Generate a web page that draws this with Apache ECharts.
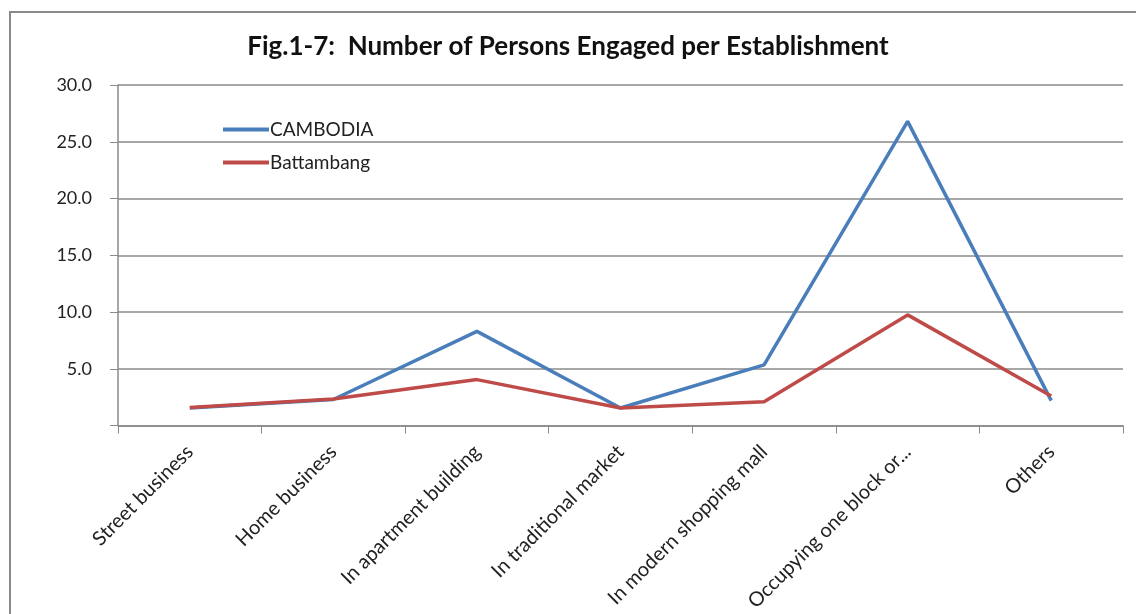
<!DOCTYPE html>
<html><head><meta charset="utf-8">
<script src="https://cdn.jsdelivr.net/npm/echarts@6/dist/echarts.min.js"></script>
<style>html,body{margin:0;padding:0;background:#fff}#c{width:1136px;height:614px}</style>
</head><body><div id="c"></div>
<script>
const title = 'Fig.1-7:  Number of Persons Engaged per Establishment';
const categories = ['Street business','Home business','In apartment building','In traditional market','In modern shopping mall','Occupying one block or...','Others'];
const cambodia = [1.55, 2.3, 8.3, 1.55, 5.35, 26.8, 2.2];
const battambang = [1.6, 2.35, 4.05, 1.55, 2.1, 9.75, 2.6];
const yTicks = [0, 5, 10, 15, 20, 25, 30];

const chart = echarts.init(document.getElementById('c'));
const font = 'Lato, "Open Sans", sans-serif';
chart.setOption({
  animation: false,
  backgroundColor: '#fff',
  graphic: [{type:'rect', shape:{x:10,y:12,width:1140,height:620}, style:{fill:'none', stroke:'#8a8a8a', lineWidth:2}, silent:true}],
  title: {text: title, left: 563, top: 29, textAlign: 'center',
    textStyle:{fontFamily: font, fontWeight:'bold', fontSize:26, color:'#111'}},
  legend: {left: 218, top: 115, orient:'vertical', itemGap: 14, itemWidth: 46, itemHeight: 4,
    icon: 'rect', textStyle:{fontFamily: font, fontSize:19, color:'#222', padding:[0,0,0,-4]},
    data:['CAMBODIA','Battambang']},
  grid: {left: 118, right: 13, top: 85, bottom: 187, containLabel: false},
  xAxis: {type:'category', data: categories, boundaryGap: true,
    axisLine:{lineStyle:{color:'#8a8a8a', width:1.5}},
    axisTick:{show:true, length:8, lineStyle:{color:'#8a8a8a'}},
    axisLabel:{rotate:45, margin:23, interval:0, fontFamily: font, fontSize:20, color:'#222'}},
  yAxis: {type:'value', min: yTicks[0], max: yTicks[yTicks.length-1], interval: 5,
    axisLine:{show:true, lineStyle:{color:'#8a8a8a', width:1.5}},
    axisTick:{show:true, length:8, lineStyle:{color:'#8a8a8a'}},
    splitLine:{lineStyle:{color:'#8a8a8a', width:1.5}},
    axisLabel:{margin:26, fontFamily: font, fontSize:18, color:'#222',
      formatter: v => v === 0 ? '' : v.toFixed(1)}},
  series: [
    {name:'CAMBODIA', type:'line', data: cambodia, symbol:'none', color:'#4a7ebb', lineStyle:{width:3.5, color:'#4a7ebb'}},
    {name:'Battambang', type:'line', data: battambang, symbol:'none', color:'#be4b48', lineStyle:{width:3.5, color:'#be4b48'}}
  ]
});
</script></body></html>
